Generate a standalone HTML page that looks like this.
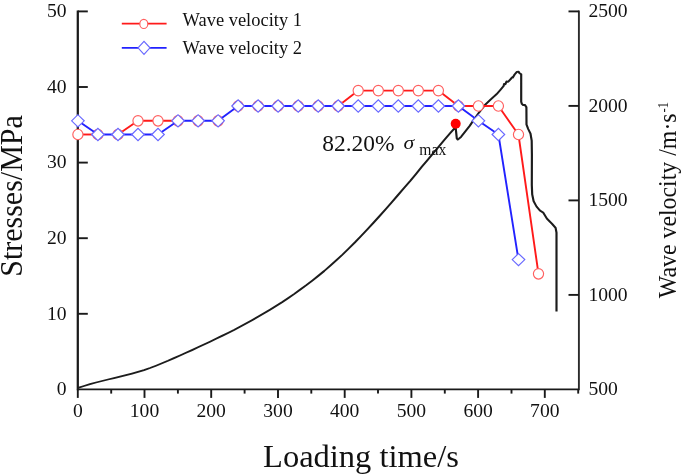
<!DOCTYPE html>
<html><head><meta charset="utf-8"><title>chart</title>
<style>
html,body{margin:0;padding:0;background:#fff;}
body{width:685px;height:474px;overflow:hidden;position:relative;font-family:"Liberation Serif",serif;}
svg{position:absolute;left:0;top:0;display:block;filter:blur(0.45px);}
text{font-family:"Liberation Serif",serif;fill:#111;}
</style></head><body>
<svg width="685" height="474" viewBox="0 0 685 474">
<rect width="685" height="474" fill="#fff"/>

<g stroke="#1a1a1a" stroke-width="1.9" fill="none" stroke-linecap="butt">
<path d="M77.8 10.5 V390.3" stroke-width="2.25"/>
<path d="M578.9 10.5 V390.3" stroke-width="1.9" stroke="#2b2b2b"/>
<path d="M77.8 389.4 H578.9"/>
<path d="M77.8 313.8 h10"/>
<path d="M77.8 238.2 h10"/>
<path d="M77.8 162.6 h10"/>
<path d="M77.8 87.0 h10"/>
<path d="M77.8 11.4 h10"/>
<path d="M578.9 294.9 h-10.4"/>
<path d="M578.9 200.4 h-10.4"/>
<path d="M578.9 105.9 h-10.4"/>
<path d="M578.9 11.4 h-10.4"/>
<path d="M77.8 389.4 v8.5"/>
<path d="M111.2 389.4 v4.2"/>
<path d="M144.5 389.4 v8.5"/>
<path d="M177.9 389.4 v4.2"/>
<path d="M211.2 389.4 v8.5"/>
<path d="M244.6 389.4 v4.2"/>
<path d="M278.0 389.4 v8.5"/>
<path d="M311.3 389.4 v4.2"/>
<path d="M344.7 389.4 v8.5"/>
<path d="M378.0 389.4 v4.2"/>
<path d="M411.4 389.4 v8.5"/>
<path d="M444.8 389.4 v4.2"/>
<path d="M478.1 389.4 v8.5"/>
<path d="M511.5 389.4 v4.2"/>
<path d="M544.8 389.4 v8.5"/>
<path d="M578.2 389.4 v4.2"/>
</g>
<g font-size="19.6">
<text x="66.5" y="395.2" text-anchor="end">0</text>
<text x="66.5" y="319.6" text-anchor="end">10</text>
<text x="66.5" y="244.0" text-anchor="end">20</text>
<text x="66.5" y="168.4" text-anchor="end">30</text>
<text x="66.5" y="92.8" text-anchor="end">40</text>
<text x="66.5" y="17.2" text-anchor="end">50</text>
<text x="588.4" y="395.0">500</text>
<text x="588.4" y="300.5">1000</text>
<text x="588.4" y="206.0">1500</text>
<text x="588.4" y="111.5">2000</text>
<text x="588.4" y="17.0">2500</text>
<text x="77.8" y="416.8" text-anchor="middle">0</text>
<text x="144.5" y="416.8" text-anchor="middle">100</text>
<text x="211.2" y="416.8" text-anchor="middle">200</text>
<text x="278.0" y="416.8" text-anchor="middle">300</text>
<text x="344.7" y="416.8" text-anchor="middle">400</text>
<text x="411.4" y="416.8" text-anchor="middle">500</text>
<text x="478.1" y="416.8" text-anchor="middle">600</text>
<text x="544.8" y="416.8" text-anchor="middle">700</text>
</g>
<text x="361" y="467" font-size="32.5" text-anchor="middle">Loading time/s</text>
<text transform="translate(21.9,196) rotate(-90) scale(1,1.07)" font-size="30" text-anchor="middle">Stresses/MPa</text>
<text transform="translate(676.2,113.4) rotate(-90) scale(1,1.07)" font-size="23.85" text-anchor="end">Wave velocity /m·s</text>
<text transform="translate(668.4,112.4) rotate(-90) scale(0.92,1.07)" font-size="13.4" text-anchor="start">-1</text>
<g transform="scale(1.2,1)"><polyline points="65.00,387.9 70.00,386.0 75.00,384.2 80.00,382.5 85.00,381.0 90.00,379.5 95.00,378.1 100.00,376.7 105.00,375.2 110.00,373.6 115.00,371.9 120.00,370.1 125.00,368.0 130.00,365.7 135.00,363.3 140.00,360.8 145.00,358.1 150.00,355.5 155.00,352.8 160.00,350.1 165.00,347.3 170.00,344.5 175.00,341.7 180.00,338.8 185.00,335.9 190.00,332.9 195.00,329.9 200.00,326.7 205.00,323.5 210.00,320.2 215.00,316.8 220.00,313.3 225.00,309.7 230.00,306.0 235.00,302.2 240.00,298.2 245.00,294.1 250.00,289.8 255.00,285.4 260.00,280.8 265.08,276.0 270.18,271.0 275.29,265.7 280.40,260.2 285.52,254.5 290.64,248.5 295.77,242.4 300.90,236.0 306.02,229.5 311.13,222.9 316.25,216.1 321.38,209.2 326.49,202.2 331.60,195.1 336.71,188.0 341.82,181.0 346.68,173.9 351.50,166.8 356.33,159.9 361.16,153.0 365.90,146.2 370.57,139.5 375.25,133.0 379.67,127.1 380.67,138.5 381.50,139.6 382.50,138.7 384.25,136.8 391.50,125.7 394.42,120.5 399.25,112.4 404.17,104.9 409.00,99.4 413.83,94.2 416.75,90.2 419.67,86.1 420.08,83.8 421.08,84.4 422.08,81.5 423.50,81.8 425.92,78.6 426.58,77.4 427.33,77.6 428.83,74.5 430.75,71.9 432.17,71.6 433.00,73.3 434.33,74.2 434.33,101.8 434.92,103.9 436.00,105.2 437.33,104.8 438.67,107.3 438.75,124.4 440.17,129.0 442.08,133.6 443.08,140.6 443.25,155.0 443.17,185.0 443.50,194.3 444.67,201.2 447.08,206.5 449.92,210.5 452.83,212.8 455.75,218.6 460.08,223.9 463.00,227.9 463.75,232.6 463.75,240.0 463.75,311.5" fill="none" stroke="#1c1c1c" stroke-width="1.8" stroke-linejoin="round"/></g>
<polyline points="77.90,134.5 97.93,134.5" fill="none" stroke="#ff1a1a" stroke-width="1.9" stroke-linejoin="round"/>
<polyline points="117.95,134.5 137.97,120.8 158.00,120.8 178.03,120.8" fill="none" stroke="#ff1a1a" stroke-width="1.9" stroke-linejoin="round"/>
<polyline points="338.23,106.0 358.25,90.6 378.27,90.6 398.30,90.6 418.33,90.6 438.35,90.6 458.38,106.0 478.40,106.0 498.42,106.0 518.45,134.5 538.48,273.8" fill="none" stroke="#ff1a1a" stroke-width="1.9" stroke-linejoin="round"/>
<ellipse cx="77.9" cy="134.5" rx="5.1" ry="5.25" fill="#fff" stroke="#ff6060" stroke-width="1.15"/>
<ellipse cx="97.9" cy="134.5" rx="5.1" ry="5.25" fill="#fff" stroke="#ff6060" stroke-width="1.15"/>
<ellipse cx="118.0" cy="134.5" rx="5.1" ry="5.25" fill="#fff" stroke="#ff6060" stroke-width="1.15"/>
<ellipse cx="138.0" cy="120.8" rx="5.1" ry="5.25" fill="#fff" stroke="#ff6060" stroke-width="1.15"/>
<ellipse cx="158.0" cy="120.8" rx="5.1" ry="5.25" fill="#fff" stroke="#ff6060" stroke-width="1.15"/>
<ellipse cx="178.0" cy="120.8" rx="5.1" ry="5.25" fill="#fff" stroke="#ff6060" stroke-width="1.15"/>
<ellipse cx="198.1" cy="120.8" rx="5.1" ry="5.25" fill="#fff" stroke="#ff6060" stroke-width="1.15"/>
<ellipse cx="218.1" cy="120.8" rx="5.1" ry="5.25" fill="#fff" stroke="#ff6060" stroke-width="1.15"/>
<ellipse cx="238.1" cy="106.0" rx="5.1" ry="5.25" fill="#fff" stroke="#ff6060" stroke-width="1.15"/>
<ellipse cx="258.1" cy="106.0" rx="5.1" ry="5.25" fill="#fff" stroke="#ff6060" stroke-width="1.15"/>
<ellipse cx="278.1" cy="106.0" rx="5.1" ry="5.25" fill="#fff" stroke="#ff6060" stroke-width="1.15"/>
<ellipse cx="298.2" cy="106.0" rx="5.1" ry="5.25" fill="#fff" stroke="#ff6060" stroke-width="1.15"/>
<ellipse cx="318.2" cy="106.0" rx="5.1" ry="5.25" fill="#fff" stroke="#ff6060" stroke-width="1.15"/>
<ellipse cx="338.2" cy="106.0" rx="5.1" ry="5.25" fill="#fff" stroke="#ff6060" stroke-width="1.15"/>
<ellipse cx="358.2" cy="90.6" rx="5.1" ry="5.25" fill="#fff" stroke="#ff6060" stroke-width="1.15"/>
<ellipse cx="378.3" cy="90.6" rx="5.1" ry="5.25" fill="#fff" stroke="#ff6060" stroke-width="1.15"/>
<ellipse cx="398.3" cy="90.6" rx="5.1" ry="5.25" fill="#fff" stroke="#ff6060" stroke-width="1.15"/>
<ellipse cx="418.3" cy="90.6" rx="5.1" ry="5.25" fill="#fff" stroke="#ff6060" stroke-width="1.15"/>
<ellipse cx="438.4" cy="90.6" rx="5.1" ry="5.25" fill="#fff" stroke="#ff6060" stroke-width="1.15"/>
<ellipse cx="458.4" cy="106.0" rx="5.1" ry="5.25" fill="#fff" stroke="#ff6060" stroke-width="1.15"/>
<ellipse cx="478.4" cy="106.0" rx="5.1" ry="5.25" fill="#fff" stroke="#ff6060" stroke-width="1.15"/>
<ellipse cx="498.4" cy="106.0" rx="5.1" ry="5.25" fill="#fff" stroke="#ff6060" stroke-width="1.15"/>
<ellipse cx="518.5" cy="134.5" rx="5.1" ry="5.25" fill="#fff" stroke="#ff6060" stroke-width="1.15"/>
<ellipse cx="538.5" cy="273.8" rx="5.1" ry="5.25" fill="#fff" stroke="#ff6060" stroke-width="1.15"/>
<polyline points="77.90,120.8 97.93,134.5 117.95,134.5 137.97,134.5 158.00,134.5 178.03,120.8 198.05,120.8 218.07,120.8 238.10,106.0 258.12,106.0 278.15,106.0 298.18,106.0 318.20,106.0 338.23,106.0 358.25,106.0 378.27,106.0 398.30,106.0 418.33,106.0 438.35,106.0 458.38,106.0 478.40,120.8 498.42,134.5 518.45,259.6" fill="none" stroke="#2222ff" stroke-width="1.9" stroke-linejoin="round"/>
<path d="M71.6 120.8 L77.9 114.7 L84.2 120.8 L77.9 126.9Z" fill="#fff" stroke="#6868ff" stroke-width="1.15"/>
<path d="M91.6 134.5 L97.9 128.4 L104.2 134.5 L97.9 140.6Z" fill="#fff" stroke="#6868ff" stroke-width="1.15"/>
<path d="M111.7 134.5 L118.0 128.4 L124.2 134.5 L118.0 140.6Z" fill="#fff" stroke="#6868ff" stroke-width="1.15"/>
<path d="M131.7 134.5 L138.0 128.4 L144.3 134.5 L138.0 140.6Z" fill="#fff" stroke="#6868ff" stroke-width="1.15"/>
<path d="M151.7 134.5 L158.0 128.4 L164.3 134.5 L158.0 140.6Z" fill="#fff" stroke="#6868ff" stroke-width="1.15"/>
<path d="M171.7 120.8 L178.0 114.7 L184.3 120.8 L178.0 126.9Z" fill="#fff" stroke="#6868ff" stroke-width="1.15"/>
<path d="M191.8 120.8 L198.1 114.7 L204.4 120.8 L198.1 126.9Z" fill="#fff" stroke="#6868ff" stroke-width="1.15"/>
<path d="M211.8 120.8 L218.1 114.7 L224.4 120.8 L218.1 126.9Z" fill="#fff" stroke="#6868ff" stroke-width="1.15"/>
<path d="M231.8 106.0 L238.1 99.9 L244.4 106.0 L238.1 112.1Z" fill="#fff" stroke="#6868ff" stroke-width="1.15"/>
<path d="M251.8 106.0 L258.1 99.9 L264.4 106.0 L258.1 112.1Z" fill="#fff" stroke="#6868ff" stroke-width="1.15"/>
<path d="M271.8 106.0 L278.1 99.9 L284.4 106.0 L278.1 112.1Z" fill="#fff" stroke="#6868ff" stroke-width="1.15"/>
<path d="M291.9 106.0 L298.2 99.9 L304.5 106.0 L298.2 112.1Z" fill="#fff" stroke="#6868ff" stroke-width="1.15"/>
<path d="M311.9 106.0 L318.2 99.9 L324.5 106.0 L318.2 112.1Z" fill="#fff" stroke="#6868ff" stroke-width="1.15"/>
<path d="M331.9 106.0 L338.2 99.9 L344.5 106.0 L338.2 112.1Z" fill="#fff" stroke="#6868ff" stroke-width="1.15"/>
<path d="M351.9 106.0 L358.2 99.9 L364.6 106.0 L358.2 112.1Z" fill="#fff" stroke="#6868ff" stroke-width="1.15"/>
<path d="M372.0 106.0 L378.3 99.9 L384.6 106.0 L378.3 112.1Z" fill="#fff" stroke="#6868ff" stroke-width="1.15"/>
<path d="M392.0 106.0 L398.3 99.9 L404.6 106.0 L398.3 112.1Z" fill="#fff" stroke="#6868ff" stroke-width="1.15"/>
<path d="M412.0 106.0 L418.3 99.9 L424.6 106.0 L418.3 112.1Z" fill="#fff" stroke="#6868ff" stroke-width="1.15"/>
<path d="M432.1 106.0 L438.4 99.9 L444.7 106.0 L438.4 112.1Z" fill="#fff" stroke="#6868ff" stroke-width="1.15"/>
<path d="M452.1 106.0 L458.4 99.9 L464.7 106.0 L458.4 112.1Z" fill="#fff" stroke="#6868ff" stroke-width="1.15"/>
<path d="M472.1 120.8 L478.4 114.7 L484.7 120.8 L478.4 126.9Z" fill="#fff" stroke="#6868ff" stroke-width="1.15"/>
<path d="M492.1 134.5 L498.4 128.4 L504.7 134.5 L498.4 140.6Z" fill="#fff" stroke="#6868ff" stroke-width="1.15"/>
<path d="M512.2 259.6 L518.5 253.5 L524.8 259.6 L518.5 265.7Z" fill="#fff" stroke="#6868ff" stroke-width="1.15"/>
<path d="M121.8 23.6 H166.6" stroke="#ff1a1a" stroke-width="1.9"/>
<ellipse cx="143.8" cy="23.9" rx="4.0" ry="4.6" fill="#fff" stroke="#ff6060" stroke-width="1.15"/>
<path d="M121.8 47.9 H166.6" stroke="#2222ff" stroke-width="1.9"/>
<path d="M138.0 47.8 L144.0 41.3 L150.0 47.8 L144.0 54.3Z" fill="#fff" stroke="#6868ff" stroke-width="1.15"/>
<text transform="translate(182.6,26.0)" font-size="18.45">Wave velocity 1</text>
<text transform="translate(182.6,53.6)" font-size="18.45">Wave velocity 2</text>
<circle cx="455.7" cy="123.7" r="5.0" fill="#ff0000"/>
<text transform="translate(322.3,151.3)" font-size="23.4">82.20%</text>
<text transform="translate(403.4,149.2) scale(1.12,1)" font-size="19.3" font-style="italic" fill="#3a3a3a">σ</text>
<text transform="translate(419.3,155.1) scale(0.92,1)" font-size="17">max</text>
</svg></body></html>
